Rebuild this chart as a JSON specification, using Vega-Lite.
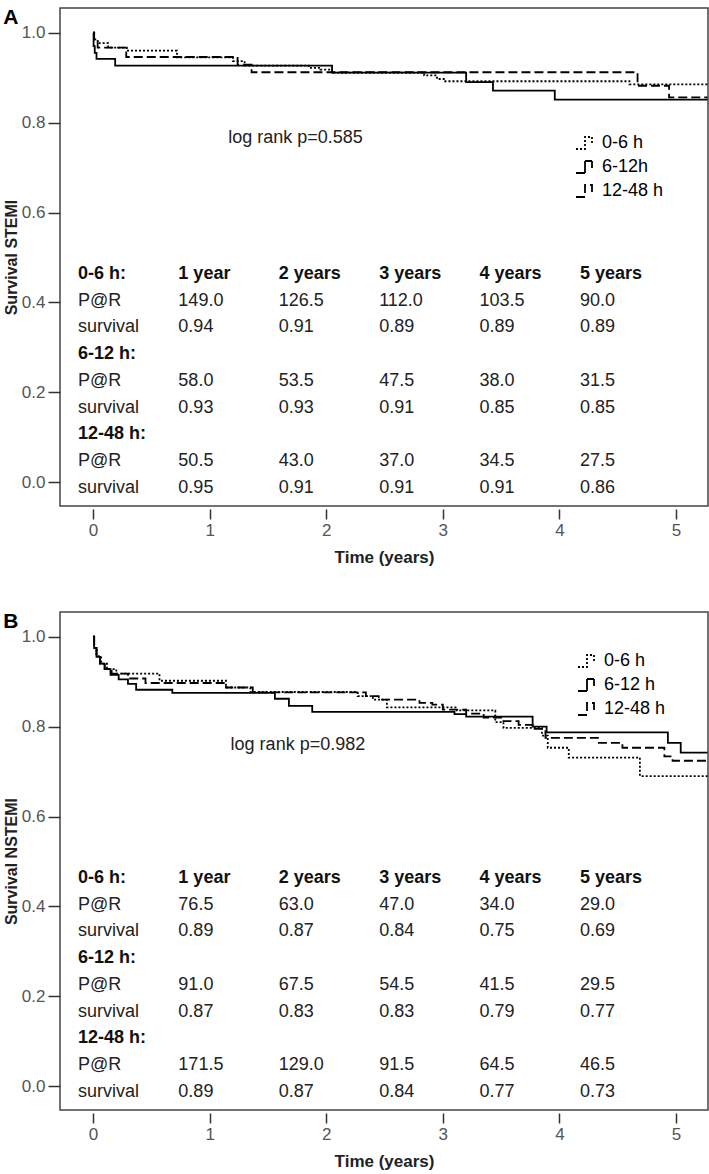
{
  "$schema": "https://vega.github.io/schema/vega-lite/v6.json",
  "background": "white",
  "padding": {"left": 2, "top": 6, "right": 0, "bottom": 0},
  "spacing": 44,
  "config": {
    "font": "Liberation Sans",
    "view": {"stroke": "#444", "strokeWidth": 1.5},
    "axis": {"grid": false, "domain": false, "tickColor": "#333", "tickWidth": 1.5, "labelFontSize": 17, "labelColor": "#555", "titleFontSize": 17, "titleFontWeight": "bold", "titleColor": "#222", "labelFont": "Liberation Sans", "titleFont": "Liberation Sans"},
    "axisX": {"tickSize": 10, "offset": 3, "labelPadding": 3, "titlePadding": 11},
    "axisY": {"tickSize": 12, "labelPadding": 3, "titlePadding": 2, "titleFontSize": 16},
    "legend": {"labelFont": "Liberation Sans"}
  },
  "resolve": {"scale": {"strokeDash": "independent"}, "legend": {"strokeDash": "independent"}},
  "datasets": {
    "curvesA": [
      {"group": "0-6 h", "t": 0, "s": 1}, {"group": "0-6 h", "t": 0.01, "s": 0.985}, {"group": "0-6 h", "t": 0.04, "s": 0.977}, {"group": "0-6 h", "t": 0.13, "s": 0.967}, {"group": "0-6 h", "t": 0.29, "s": 0.96}, {"group": "0-6 h", "t": 0.72, "s": 0.945}, {"group": "0-6 h", "t": 1.2, "s": 0.937}, {"group": "0-6 h", "t": 1.3, "s": 0.927}, {"group": "0-6 h", "t": 1.85, "s": 0.922}, {"group": "0-6 h", "t": 1.95, "s": 0.918}, {"group": "0-6 h", "t": 2.05, "s": 0.911}, {"group": "0-6 h", "t": 2.84, "s": 0.905}, {"group": "0-6 h", "t": 2.95, "s": 0.897}, {"group": "0-6 h", "t": 3.02, "s": 0.892}, {"group": "0-6 h", "t": 4.6, "s": 0.885}, {"group": "0-6 h", "t": 5.27, "s": 0.885},
      {"group": "6-12h", "t": 0, "s": 1}, {"group": "6-12h", "t": 0.005, "s": 0.97}, {"group": "6-12h", "t": 0.015, "s": 0.955}, {"group": "6-12h", "t": 0.03, "s": 0.942}, {"group": "6-12h", "t": 0.19, "s": 0.927}, {"group": "6-12h", "t": 2.05, "s": 0.911}, {"group": "6-12h", "t": 3.2, "s": 0.89}, {"group": "6-12h", "t": 3.43, "s": 0.871}, {"group": "6-12h", "t": 3.96, "s": 0.851}, {"group": "6-12h", "t": 5.27, "s": 0.851},
      {"group": "12-48 h", "t": 0, "s": 1}, {"group": "12-48 h", "t": 0.01, "s": 0.98}, {"group": "12-48 h", "t": 0.04, "s": 0.967}, {"group": "12-48 h", "t": 0.285, "s": 0.946}, {"group": "12-48 h", "t": 1.24, "s": 0.929}, {"group": "12-48 h", "t": 1.36, "s": 0.912}, {"group": "12-48 h", "t": 4.67, "s": 0.882}, {"group": "12-48 h", "t": 4.94, "s": 0.856}, {"group": "12-48 h", "t": 5.27, "s": 0.856}
    ],
    "curvesB": [
      {"group": "0-6 h", "t": 0, "s": 1}, {"group": "0-6 h", "t": 0.01, "s": 0.975}, {"group": "0-6 h", "t": 0.03, "s": 0.957}, {"group": "0-6 h", "t": 0.07, "s": 0.94}, {"group": "0-6 h", "t": 0.12, "s": 0.928}, {"group": "0-6 h", "t": 0.2, "s": 0.918}, {"group": "0-6 h", "t": 0.57, "s": 0.902}, {"group": "0-6 h", "t": 1.14, "s": 0.887}, {"group": "0-6 h", "t": 1.35, "s": 0.877}, {"group": "0-6 h", "t": 2.27, "s": 0.868}, {"group": "0-6 h", "t": 2.4, "s": 0.86}, {"group": "0-6 h", "t": 2.52, "s": 0.843}, {"group": "0-6 h", "t": 3.12, "s": 0.836}, {"group": "0-6 h", "t": 3.45, "s": 0.81}, {"group": "0-6 h", "t": 3.52, "s": 0.797}, {"group": "0-6 h", "t": 3.85, "s": 0.78}, {"group": "0-6 h", "t": 3.9, "s": 0.753}, {"group": "0-6 h", "t": 4.08, "s": 0.731}, {"group": "0-6 h", "t": 4.69, "s": 0.69}, {"group": "0-6 h", "t": 5.27, "s": 0.69},
      {"group": "6-12 h", "t": 0, "s": 1}, {"group": "6-12 h", "t": 0.01, "s": 0.975}, {"group": "6-12 h", "t": 0.03, "s": 0.955}, {"group": "6-12 h", "t": 0.06, "s": 0.94}, {"group": "6-12 h", "t": 0.1, "s": 0.928}, {"group": "6-12 h", "t": 0.15, "s": 0.915}, {"group": "6-12 h", "t": 0.22, "s": 0.905}, {"group": "6-12 h", "t": 0.3, "s": 0.895}, {"group": "6-12 h", "t": 0.37, "s": 0.882}, {"group": "6-12 h", "t": 0.68, "s": 0.875}, {"group": "6-12 h", "t": 1.56, "s": 0.862}, {"group": "6-12 h", "t": 1.68, "s": 0.846}, {"group": "6-12 h", "t": 1.88, "s": 0.833}, {"group": "6-12 h", "t": 3.1, "s": 0.828}, {"group": "6-12 h", "t": 3.2, "s": 0.822}, {"group": "6-12 h", "t": 3.77, "s": 0.8}, {"group": "6-12 h", "t": 3.89, "s": 0.787}, {"group": "6-12 h", "t": 4.93, "s": 0.764}, {"group": "6-12 h", "t": 5.04, "s": 0.742}, {"group": "6-12 h", "t": 5.27, "s": 0.742},
      {"group": "12-48 h", "t": 0, "s": 1}, {"group": "12-48 h", "t": 0.01, "s": 0.975}, {"group": "12-48 h", "t": 0.03, "s": 0.955}, {"group": "12-48 h", "t": 0.06, "s": 0.94}, {"group": "12-48 h", "t": 0.1, "s": 0.928}, {"group": "12-48 h", "t": 0.16, "s": 0.918}, {"group": "12-48 h", "t": 0.3, "s": 0.907}, {"group": "12-48 h", "t": 0.45, "s": 0.897}, {"group": "12-48 h", "t": 1.14, "s": 0.887}, {"group": "12-48 h", "t": 1.37, "s": 0.876}, {"group": "12-48 h", "t": 2.34, "s": 0.868}, {"group": "12-48 h", "t": 2.45, "s": 0.86}, {"group": "12-48 h", "t": 2.8, "s": 0.853}, {"group": "12-48 h", "t": 2.91, "s": 0.849}, {"group": "12-48 h", "t": 3.0, "s": 0.838}, {"group": "12-48 h", "t": 3.2, "s": 0.829}, {"group": "12-48 h", "t": 3.35, "s": 0.82}, {"group": "12-48 h", "t": 3.5, "s": 0.812}, {"group": "12-48 h", "t": 3.65, "s": 0.804}, {"group": "12-48 h", "t": 3.77, "s": 0.795}, {"group": "12-48 h", "t": 3.88, "s": 0.775}, {"group": "12-48 h", "t": 4.33, "s": 0.764}, {"group": "12-48 h", "t": 4.54, "s": 0.753}, {"group": "12-48 h", "t": 4.9, "s": 0.734}, {"group": "12-48 h", "t": 4.97, "s": 0.724}, {"group": "12-48 h", "t": 5.27, "s": 0.724}
    ],
    "tableA": [
      {"line": 1, "col": "label", "text": "0-6 h:", "kind": "header"}, {"line": 1, "col": "y1", "text": "1 year", "kind": "header"}, {"line": 1, "col": "y2", "text": "2 years", "kind": "header"}, {"line": 1, "col": "y3", "text": "3 years", "kind": "header"}, {"line": 1, "col": "y4", "text": "4 years", "kind": "header"}, {"line": 1, "col": "y5", "text": "5 years", "kind": "header"},
      {"line": 2, "col": "label", "text": "P@R", "kind": "value"}, {"line": 2, "col": "y1", "text": "149.0", "kind": "value"}, {"line": 2, "col": "y2", "text": "126.5", "kind": "value"}, {"line": 2, "col": "y3", "text": "112.0", "kind": "value"}, {"line": 2, "col": "y4", "text": "103.5", "kind": "value"}, {"line": 2, "col": "y5", "text": "90.0", "kind": "value"},
      {"line": 3, "col": "label", "text": "survival", "kind": "value"}, {"line": 3, "col": "y1", "text": "\u00a00.94", "kind": "value"}, {"line": 3, "col": "y2", "text": "0.91", "kind": "value"}, {"line": 3, "col": "y3", "text": "0.89", "kind": "value"}, {"line": 3, "col": "y4", "text": "0.89", "kind": "value"}, {"line": 3, "col": "y5", "text": "0.89", "kind": "value"},
      {"line": 4, "col": "label", "text": "6-12 h:", "kind": "header"},
      {"line": 5, "col": "label", "text": "P@R", "kind": "value"}, {"line": 5, "col": "y1", "text": "58.0", "kind": "value"}, {"line": 5, "col": "y2", "text": "53.5", "kind": "value"}, {"line": 5, "col": "y3", "text": "47.5", "kind": "value"}, {"line": 5, "col": "y4", "text": "38.0", "kind": "value"}, {"line": 5, "col": "y5", "text": "31.5", "kind": "value"},
      {"line": 6, "col": "label", "text": "survival", "kind": "value"}, {"line": 6, "col": "y1", "text": "0.93", "kind": "value"}, {"line": 6, "col": "y2", "text": "0.93", "kind": "value"}, {"line": 6, "col": "y3", "text": "0.91", "kind": "value"}, {"line": 6, "col": "y4", "text": "0.85", "kind": "value"}, {"line": 6, "col": "y5", "text": "0.85", "kind": "value"},
      {"line": 7, "col": "label", "text": "12-48 h:", "kind": "header"},
      {"line": 8, "col": "label", "text": "P@R", "kind": "value"}, {"line": 8, "col": "y1", "text": "50.5", "kind": "value"}, {"line": 8, "col": "y2", "text": "43.0", "kind": "value"}, {"line": 8, "col": "y3", "text": "37.0", "kind": "value"}, {"line": 8, "col": "y4", "text": "34.5", "kind": "value"}, {"line": 8, "col": "y5", "text": "27.5", "kind": "value"},
      {"line": 9, "col": "label", "text": "survival", "kind": "value"}, {"line": 9, "col": "y1", "text": "0.95", "kind": "value"}, {"line": 9, "col": "y2", "text": "0.91", "kind": "value"}, {"line": 9, "col": "y3", "text": "0.91", "kind": "value"}, {"line": 9, "col": "y4", "text": "0.91", "kind": "value"}, {"line": 9, "col": "y5", "text": "0.86", "kind": "value"}
    ],
    "tableB": [
      {"line": 1, "col": "label", "text": "0-6 h:", "kind": "header"}, {"line": 1, "col": "y1", "text": "1 year", "kind": "header"}, {"line": 1, "col": "y2", "text": "2 years", "kind": "header"}, {"line": 1, "col": "y3", "text": "3 years", "kind": "header"}, {"line": 1, "col": "y4", "text": "4 years", "kind": "header"}, {"line": 1, "col": "y5", "text": "5 years", "kind": "header"},
      {"line": 2, "col": "label", "text": "P@R", "kind": "value"}, {"line": 2, "col": "y1", "text": "76.5", "kind": "value"}, {"line": 2, "col": "y2", "text": "63.0", "kind": "value"}, {"line": 2, "col": "y3", "text": "47.0", "kind": "value"}, {"line": 2, "col": "y4", "text": "34.0", "kind": "value"}, {"line": 2, "col": "y5", "text": "29.0", "kind": "value"},
      {"line": 3, "col": "label", "text": "survival", "kind": "value"}, {"line": 3, "col": "y1", "text": "\u00a00.89", "kind": "value"}, {"line": 3, "col": "y2", "text": "0.87", "kind": "value"}, {"line": 3, "col": "y3", "text": "0.84", "kind": "value"}, {"line": 3, "col": "y4", "text": "0.75", "kind": "value"}, {"line": 3, "col": "y5", "text": "0.69", "kind": "value"},
      {"line": 4, "col": "label", "text": "6-12 h:", "kind": "header"},
      {"line": 5, "col": "label", "text": "P@R", "kind": "value"}, {"line": 5, "col": "y1", "text": "91.0", "kind": "value"}, {"line": 5, "col": "y2", "text": "67.5", "kind": "value"}, {"line": 5, "col": "y3", "text": "54.5", "kind": "value"}, {"line": 5, "col": "y4", "text": "41.5", "kind": "value"}, {"line": 5, "col": "y5", "text": "29.5", "kind": "value"},
      {"line": 6, "col": "label", "text": "survival", "kind": "value"}, {"line": 6, "col": "y1", "text": "0.87", "kind": "value"}, {"line": 6, "col": "y2", "text": "0.83", "kind": "value"}, {"line": 6, "col": "y3", "text": "0.83", "kind": "value"}, {"line": 6, "col": "y4", "text": "0.79", "kind": "value"}, {"line": 6, "col": "y5", "text": "0.77", "kind": "value"},
      {"line": 7, "col": "label", "text": "12-48 h:", "kind": "header"},
      {"line": 8, "col": "label", "text": "P@R", "kind": "value"}, {"line": 8, "col": "y1", "text": "171.5", "kind": "value"}, {"line": 8, "col": "y2", "text": "129.0", "kind": "value"}, {"line": 8, "col": "y3", "text": "91.5", "kind": "value"}, {"line": 8, "col": "y4", "text": "64.5", "kind": "value"}, {"line": 8, "col": "y5", "text": "46.5", "kind": "value"},
      {"line": 9, "col": "label", "text": "survival", "kind": "value"}, {"line": 9, "col": "y1", "text": "0.89", "kind": "value"}, {"line": 9, "col": "y2", "text": "0.87", "kind": "value"}, {"line": 9, "col": "y3", "text": "0.84", "kind": "value"}, {"line": 9, "col": "y4", "text": "0.77", "kind": "value"}, {"line": 9, "col": "y5", "text": "0.73", "kind": "value"}
    ]
  },
  "vconcat": [
    {
      "title": {"text": "A", "anchor": "start", "frame": "bounds", "fontSize": 21, "fontWeight": "bold", "color": "black", "offset": 0, "dy": 20},
      "width": 648,
      "height": 498,
      "resolve": {"scale": {"x": "independent", "y": "independent"}},
      "layer": [
        {
          "data": {"name": "curvesA"},
          "layer": [
            {
              "mark": {"type": "line", "interpolate": "step-after", "strokeWidth": 1.8, "color": "black"},
              "encoding": {
                "x": {"field": "t", "type": "quantitative", "scale": {"domain": [-0.283, 5.274], "nice": false, "zero": false}, "axis": {"values": [0, 1, 2, 3, 4, 5], "format": "d", "title": "Time (years)"}},
                "y": {"field": "s", "type": "quantitative", "scale": {"domain": [-0.053, 1.055], "nice": false, "zero": false}, "axis": {"values": [0, 0.2, 0.4, 0.6, 0.8, 1.0], "format": ".1f", "title": "Survival STEMI"}},
                "strokeDash": {"field": "group", "type": "nominal", "scale": {"domain": ["0-6 h", "6-12h", "12-48 h"], "range": [[2, 2], [1, 0], [9, 4]]}, "legend": {"title": null, "orient": "none", "legendX": 515, "legendY": 124, "symbolType": "M-1,0.6H-0.1V-0.6H0.6V0.1", "symbolSize": 400, "symbolStrokeWidth": 1.8, "symbolStrokeColor": "black", "symbolFillColor": "transparent", "labelFontSize": 18, "labelColor": "black", "labelOffset": 5, "rowPadding": 3, "padding": 0}}
              }
            },
            {
              "data": {"values": [{}]},
              "mark": {"type": "text", "align": "left", "baseline": "middle", "fontSize": 18, "color": "#222"},
              "encoding": {"x": {"datum": 1.16, "type": "quantitative"}, "y": {"datum": 0.766, "type": "quantitative"}, "text": {"value": "log rank p=0.585"}}
            }
          ]
        },
        {
          "data": {"name": "tableA"},
          "encoding": {
            "x": {"field": "col", "type": "ordinal", "scale": {"type": "point", "domain": ["label", "y1", "y2", "y3", "y4", "y5"], "padding": 0.727, "align": 0.123}, "axis": null},
            "y": {"field": "line", "type": "quantitative", "scale": {"domain": [-8.944, 9.673], "reverse": true, "nice": false, "zero": false}, "axis": null},
            "text": {"field": "text", "type": "nominal"}
          },
          "layer": [
            {"transform": [{"filter": "datum.kind === 'header'"}], "mark": {"type": "text", "align": "left", "baseline": "middle", "fontSize": 18, "fontWeight": "bold", "color": "#111"}},
            {"transform": [{"filter": "datum.kind === 'value'"}], "mark": {"type": "text", "align": "left", "baseline": "middle", "fontSize": 18, "color": "#222"}}
          ]
        }
      ]
    },
    {
      "title": {"text": "B", "anchor": "start", "frame": "bounds", "fontSize": 21, "fontWeight": "bold", "color": "black", "offset": 0, "dy": 20},
      "width": 648,
      "height": 498,
      "resolve": {"scale": {"x": "independent", "y": "independent"}},
      "layer": [
        {
          "data": {"name": "curvesB"},
          "layer": [
            {
              "mark": {"type": "line", "interpolate": "step-after", "strokeWidth": 1.8, "color": "black"},
              "encoding": {
                "x": {"field": "t", "type": "quantitative", "scale": {"domain": [-0.283, 5.274], "nice": false, "zero": false}, "axis": {"values": [0, 1, 2, 3, 4, 5], "format": "d", "title": "Time (years)"}},
                "y": {"field": "s", "type": "quantitative", "scale": {"domain": [-0.053, 1.055], "nice": false, "zero": false}, "axis": {"values": [0, 0.2, 0.4, 0.6, 0.8, 1.0], "format": ".1f", "title": "Survival NSTEMI"}},
                "strokeDash": {"field": "group", "type": "nominal", "scale": {"domain": ["0-6 h", "6-12 h", "12-48 h"], "range": [[2, 2], [1, 0], [9, 4]]}, "legend": {"title": null, "orient": "none", "legendX": 517, "legendY": 38, "symbolType": "M-1,0.6H-0.1V-0.6H0.6V0.1", "symbolSize": 400, "symbolStrokeWidth": 1.8, "symbolStrokeColor": "black", "symbolFillColor": "transparent", "labelFontSize": 18, "labelColor": "black", "labelOffset": 5, "rowPadding": 3, "padding": 0}}
              }
            },
            {
              "data": {"values": [{}]},
              "mark": {"type": "text", "align": "left", "baseline": "middle", "fontSize": 18, "color": "#222"},
              "encoding": {"x": {"datum": 1.18, "type": "quantitative"}, "y": {"datum": 0.76, "type": "quantitative"}, "text": {"value": "log rank p=0.982"}}
            }
          ]
        },
        {
          "data": {"name": "tableB"},
          "encoding": {
            "x": {"field": "col", "type": "ordinal", "scale": {"type": "point", "domain": ["label", "y1", "y2", "y3", "y4", "y5"], "padding": 0.727, "align": 0.123}, "axis": null},
            "y": {"field": "line", "type": "quantitative", "scale": {"domain": [-8.944, 9.673], "reverse": true, "nice": false, "zero": false}, "axis": null},
            "text": {"field": "text", "type": "nominal"}
          },
          "layer": [
            {"transform": [{"filter": "datum.kind === 'header'"}], "mark": {"type": "text", "align": "left", "baseline": "middle", "fontSize": 18, "fontWeight": "bold", "color": "#111"}},
            {"transform": [{"filter": "datum.kind === 'value'"}], "mark": {"type": "text", "align": "left", "baseline": "middle", "fontSize": 18, "color": "#222"}}
          ]
        }
      ]
    }
  ]
}
